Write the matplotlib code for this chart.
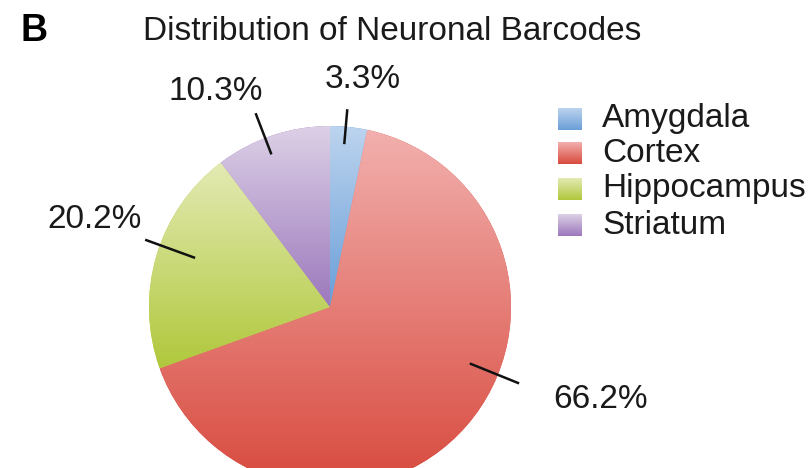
import numpy as np
import matplotlib
matplotlib.use("Agg")
import matplotlib.pyplot as plt
from matplotlib.colors import to_rgb

categories = ["Amygdala", "Cortex", "Hippocampus", "Striatum"]
percents = [3.3, 66.2, 20.2, 10.3]
pct_labels = ["3.3%", "66.2%", "20.2%", "10.3%"]

# gradient fill per slice: top colour, bottom colour
top_colors = ["#bcd4ee", "#f2b0ae", "#e4eab4", "#dcd0e6"]
bottom_colors = ["#6a9ed8", "#d84a3e", "#b0c83c", "#9c78bc"]

plt.rcParams["font.family"] = ["Liberation Sans", "DejaVu Sans"]


def gradient(top, bottom, n=256):
    t = np.linspace(0, 1, n)[:, None]
    c0 = np.array(to_rgb(top))
    c1 = np.array(to_rgb(bottom))
    return (c0 * (1 - t) + c1 * t)[:, None, :]


W, H = 809, 468
fig = plt.figure(figsize=(W / 100, H / 100), dpi=100)
ax = fig.add_axes([0, 0, 1, 1])

cx, cy, R = 330, 307, 181
# y axis is flipped (pixel coords), so start at -90 and go counterclockwise in data
wedges, _ = ax.pie(percents, center=(cx, cy), radius=R, startangle=-90,
                   counterclock=True, colors=bottom_colors,
                   wedgeprops=dict(linewidth=0))

for w, top, bot in zip(wedges, top_colors, bottom_colors):
    ext = w.get_path().get_extents()
    im = ax.imshow(gradient(top, bot), extent=(ext.x0, ext.x1, ext.y1, ext.y0),
                   origin="upper", aspect="auto", interpolation="bilinear",
                   zorder=2)
    im.set_clip_path(w)

# leader lines + percentage labels (visual angle, inner r, outer r, text pos)
label_angles = [85, -22, 160, 111]
line_r = [(0.91, 1.09), (0.84, 1.12), (0.80, 1.08), (0.91, 1.14)]
text_pos = [(363, 80), (601, 399), (95, 219), (216, 92)]
for lab, a, (r0, r1), (tx, ty) in zip(pct_labels, label_angles, line_r, text_pos):
    th = np.deg2rad(a)
    xs = [cx + r0 * R * np.cos(th), cx + r1 * R * np.cos(th)]
    ys = [cy - r0 * R * np.sin(th), cy - r1 * R * np.sin(th)]
    ax.plot(xs, ys, color="#111111", lw=1.8, zorder=3)
    ax.text(tx, ty, lab, ha="center", va="center", fontsize=24,
            color="#1a1a1a", zorder=4)

# legend with gradient squares
leg_y = [119, 153, 189, 225]
for name, top, bot, ly in zip(categories, top_colors, bottom_colors, leg_y):
    ax.imshow(gradient(top, bot), extent=(558, 582, ly + 11, ly - 11),
              origin="upper", aspect="auto", zorder=2)
    ax.text(602, ly, name, ha="left", va="center", fontsize=24,
            color="#1a1a1a")

ax.text(143, 32, "Distribution of Neuronal Barcodes", ha="left", va="center",
        fontsize=24, color="#1a1a1a")
ax.text(21, 31, "B", ha="left", va="center", fontsize=27, fontweight="bold",
        color="black")

ax.set_xlim(0, W)
ax.set_ylim(H, 0)
ax.set_aspect("auto")
ax.axis("off")

fig.savefig("out.png", dpi=100)
